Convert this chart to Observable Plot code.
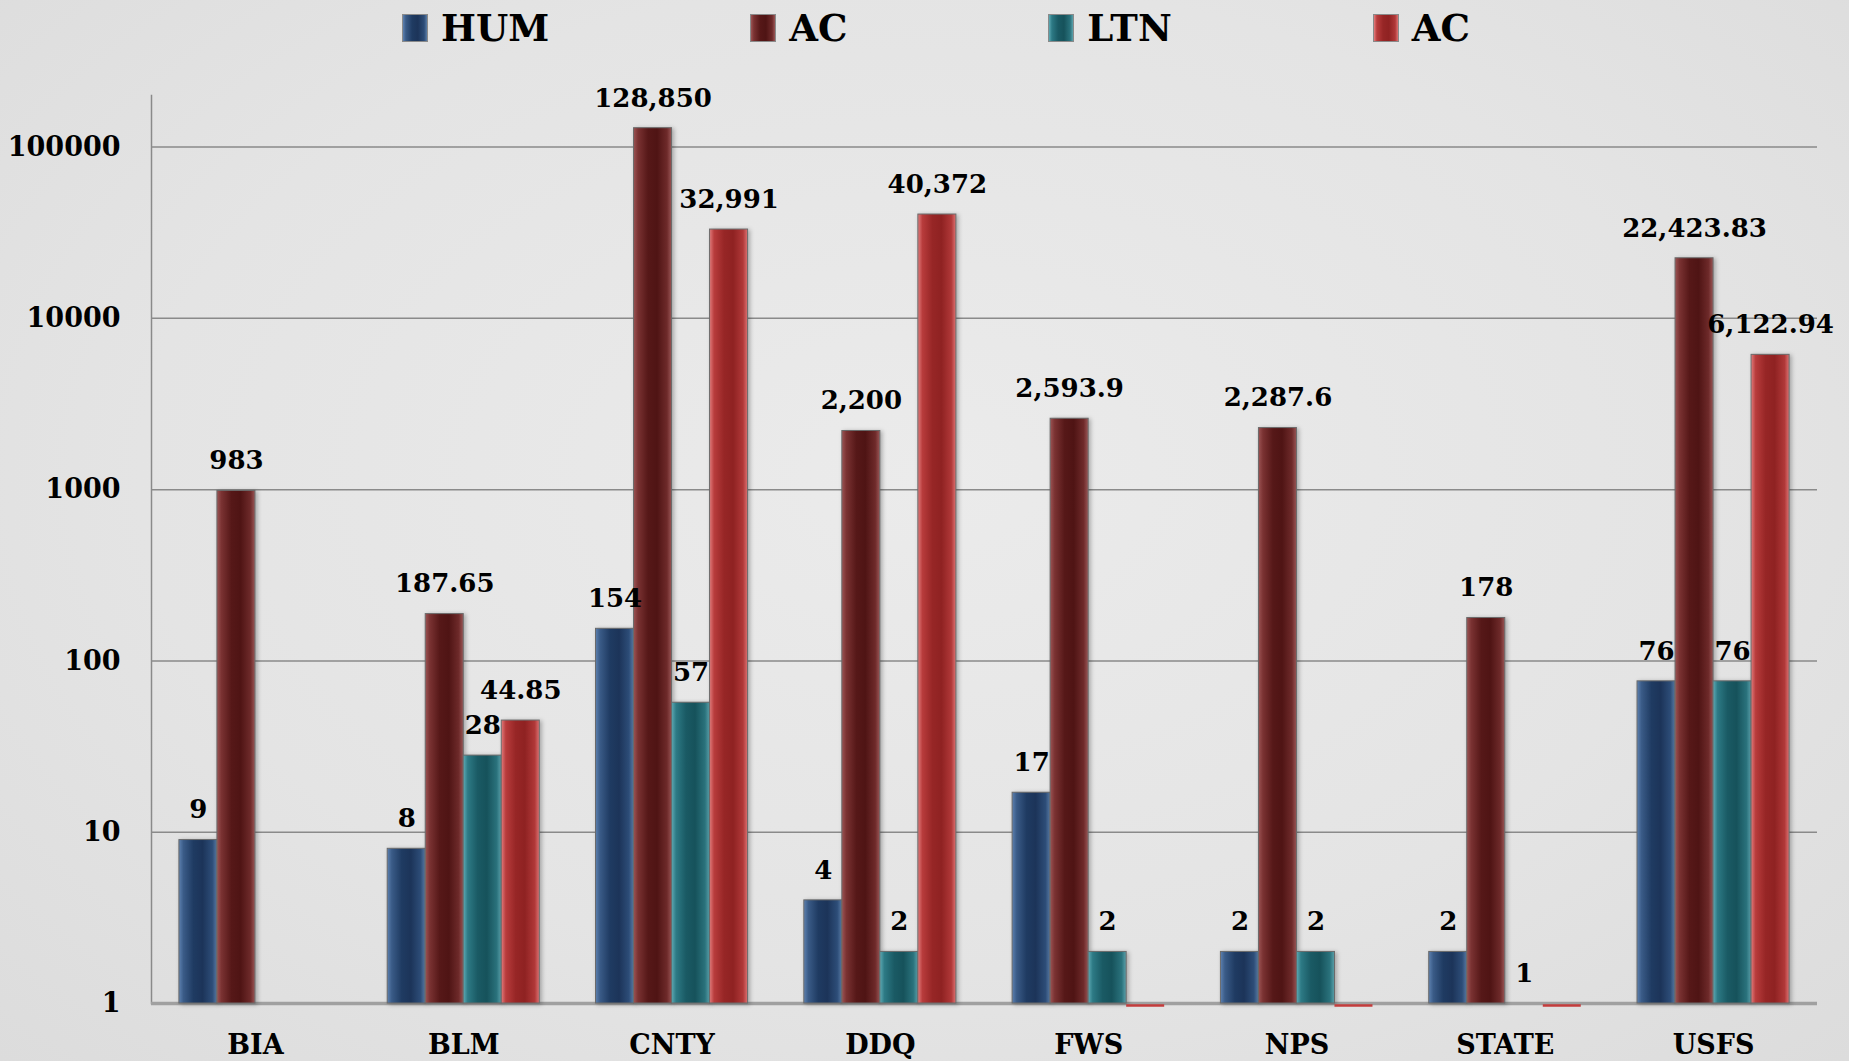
<!DOCTYPE html>
<html>
<head>
<meta charset="utf-8">
<script src="https://cdn.jsdelivr.net/npm/d3@7"></script>
<script src="https://cdn.jsdelivr.net/npm/@observablehq/plot@0.6"></script>
<style>
  html, body { margin: 0; padding: 0; width: 1849px; height: 1061px; overflow: hidden; }
  body {
    background: radial-gradient(ellipse at 50% 45%, #ebebeb 0%, #e4e4e4 60%, #dcdcdc 100%);
    font-family: "DejaVu Serif", serif;
    color: #000;
  }
  #legend {
    height: 56px; display: flex; align-items: center;
    padding-left: 402px; gap: 201px;
    font-weight: bold; font-size: 37px; box-sizing: border-box;
  }
  .item { display: flex; align-items: center; gap: 13px; }
  .sw { width: 26px; height: 28px; border: 1px solid #8a8a8a; box-sizing: border-box; }
  #chart svg g[aria-label="bar"] rect { filter: drop-shadow(2px 1px 2px rgba(0,0,0,0.28)); }
</style>
</head>
<body>
<div id="legend"></div>
<div id="chart"></div>
<script>
// ---- data ----
const categories = ["BIA", "BLM", "CNTY", "DDQ", "FWS", "NPS", "STATE", "USFS"];
const seriesKeys = ["HUM", "AC", "LTN", "AC2"];
const seriesNames = ["HUM", "AC", "LTN", "AC"];
const humValues = [9, 8, 154, 4, 17, 2, 2, 76];
const acValues = [983, 187.65, 128850, 2200, 2593.9, 2287.6, 178, 22423.83];
const ltnValues = [null, 28, 57, 2, 2, 2, 1, 76];
const ac2Values = [null, 44.85, 32991, 40372, 0, 0, 0, 6122.94];
const yTicks = [1, 10, 100, 1000, 10000, 100000];
const gridTicks = [10, 100, 1000, 10000, 100000];

const gradients = {
  HUM: ["#5d81b0", "#3a5b87", "#1f3b62", "#1c3459", "#2d4d78", "#5a7da6"],
  AC:  ["#9c5454", "#7a3232", "#561818", "#4f1414", "#6e2a2a", "#9a5656"],
  LTN: ["#5eaab4", "#2d7a85", "#1a5a64", "#16525b", "#2a727c", "#5ca2ac"],
  AC2: ["#e27c7c", "#b83c3c", "#972626", "#8f2222", "#b03838", "#de7272"]
};
const stops = [0, 0.12, 0.38, 0.62, 0.88, 1];

const seriesValues = [humValues, acValues, ltnValues, ac2Values];
const rows = [];
categories.forEach((c, i) => {
  seriesKeys.forEach((k, j) => {
    const v = seriesValues[j][i];
    if (v != null) rows.push({cat: c, series: k, value: v});
  });
});
const fmt = d3.format(",");

// legend
const legend = d3.select("#legend");
seriesKeys.forEach((k, j) => {
  const g = gradients[k];
  const it = legend.append("div").attr("class", "item");
  it.append("div").attr("class", "sw")
    .style("background", `linear-gradient(90deg, ${g.map((c, i) => c + " " + (stops[i] * 100) + "%").join(",")})`);
  it.append("span").text(seriesNames[j]);
});

const W = 1849, H = 1005, mL = 151, mR = 32, mT = 39, mB = 58;
const xOpts = {domain: categories, paddingInner: 0.27, paddingOuter: 0.134, round: false};
const bw = Plot.scale({x: {type: "band", ...xOpts, range: [mL, W - mR]}}).bandwidth;
const n = seriesKeys.length;
const slot = bw / n;

const barMarks = [], labelMarks = [];
seriesKeys.forEach((k, j) => {
  const data = rows.filter(d => d.series === k);
  const pos = data.filter(d => d.value >= 1);
  const zero = data.filter(d => d.value === 0);
  const inset = {insetLeft: j * slot, insetRight: (n - 1 - j) * slot};
  const shift = (j - (n - 1) / 2) * slot;
  barMarks.push(
    Plot.barY(pos, {x: "cat", y1: 1, y2: "value", fill: "series", stroke: "#6a6a6a", strokeWidth: 1, ...inset}),
    Plot.tickY(zero, {x: "cat", y: d => Math.max(d.value, 1), stroke: "#c43c3c", strokeWidth: 2.5, dy: 2, ...inset})
  );
  labelMarks.push(
    Plot.text(pos, {x: "cat", y: "value", text: d => fmt(d.value), dx: shift, dy: -30, fontSize: 26, fontWeight: "bold", fill: "#000"})
  );
});

const chart = Plot.plot({
  width: W,
  height: H,
  marginLeft: mL,
  marginRight: mR,
  marginTop: mT,
  marginBottom: mB,
  style: {background: "transparent", fontFamily: "DejaVu Serif", fontWeight: "bold", fontSize: "27px", color: "#000", overflow: "visible"},
  x: {...xOpts, label: null, axis: "bottom", tickSize: 0, tickPadding: 31},
  y: {type: "log", domain: [1, 200000], axis: null},
  color: {domain: seriesKeys, range: seriesKeys.map(k => `url(#grad-${k})`)},
  marks: [
    Plot.ruleY(gridTicks, {stroke: "#8a8a8a", strokeWidth: 1.5}),
    Plot.frame({anchor: "left", stroke: "#8a8a8a", strokeWidth: 1.5}),
    Plot.ruleY([1], {stroke: "#a0a0a0", strokeWidth: 3.5}),
    Plot.text(yTicks, {y: d => d, text: d => String(d), frameAnchor: "left", textAnchor: "end", dx: -31, fontSize: 27, fontWeight: "bold", fill: "#000"}),
    ...barMarks,
    ...labelMarks
  ]
});

// gradient defs for bar fills
const svg = d3.select(chart);
const defs = svg.insert("defs", ":first-child");
seriesKeys.forEach(k => {
  const lg = defs.append("linearGradient").attr("id", `grad-${k}`)
    .attr("x1", 0).attr("x2", 1).attr("y1", 0).attr("y2", 0);
  gradients[k].forEach((c, i) => lg.append("stop").attr("offset", stops[i]).attr("stop-color", c));
});

document.getElementById("chart").appendChild(chart);
</script>
</body>
</html>
